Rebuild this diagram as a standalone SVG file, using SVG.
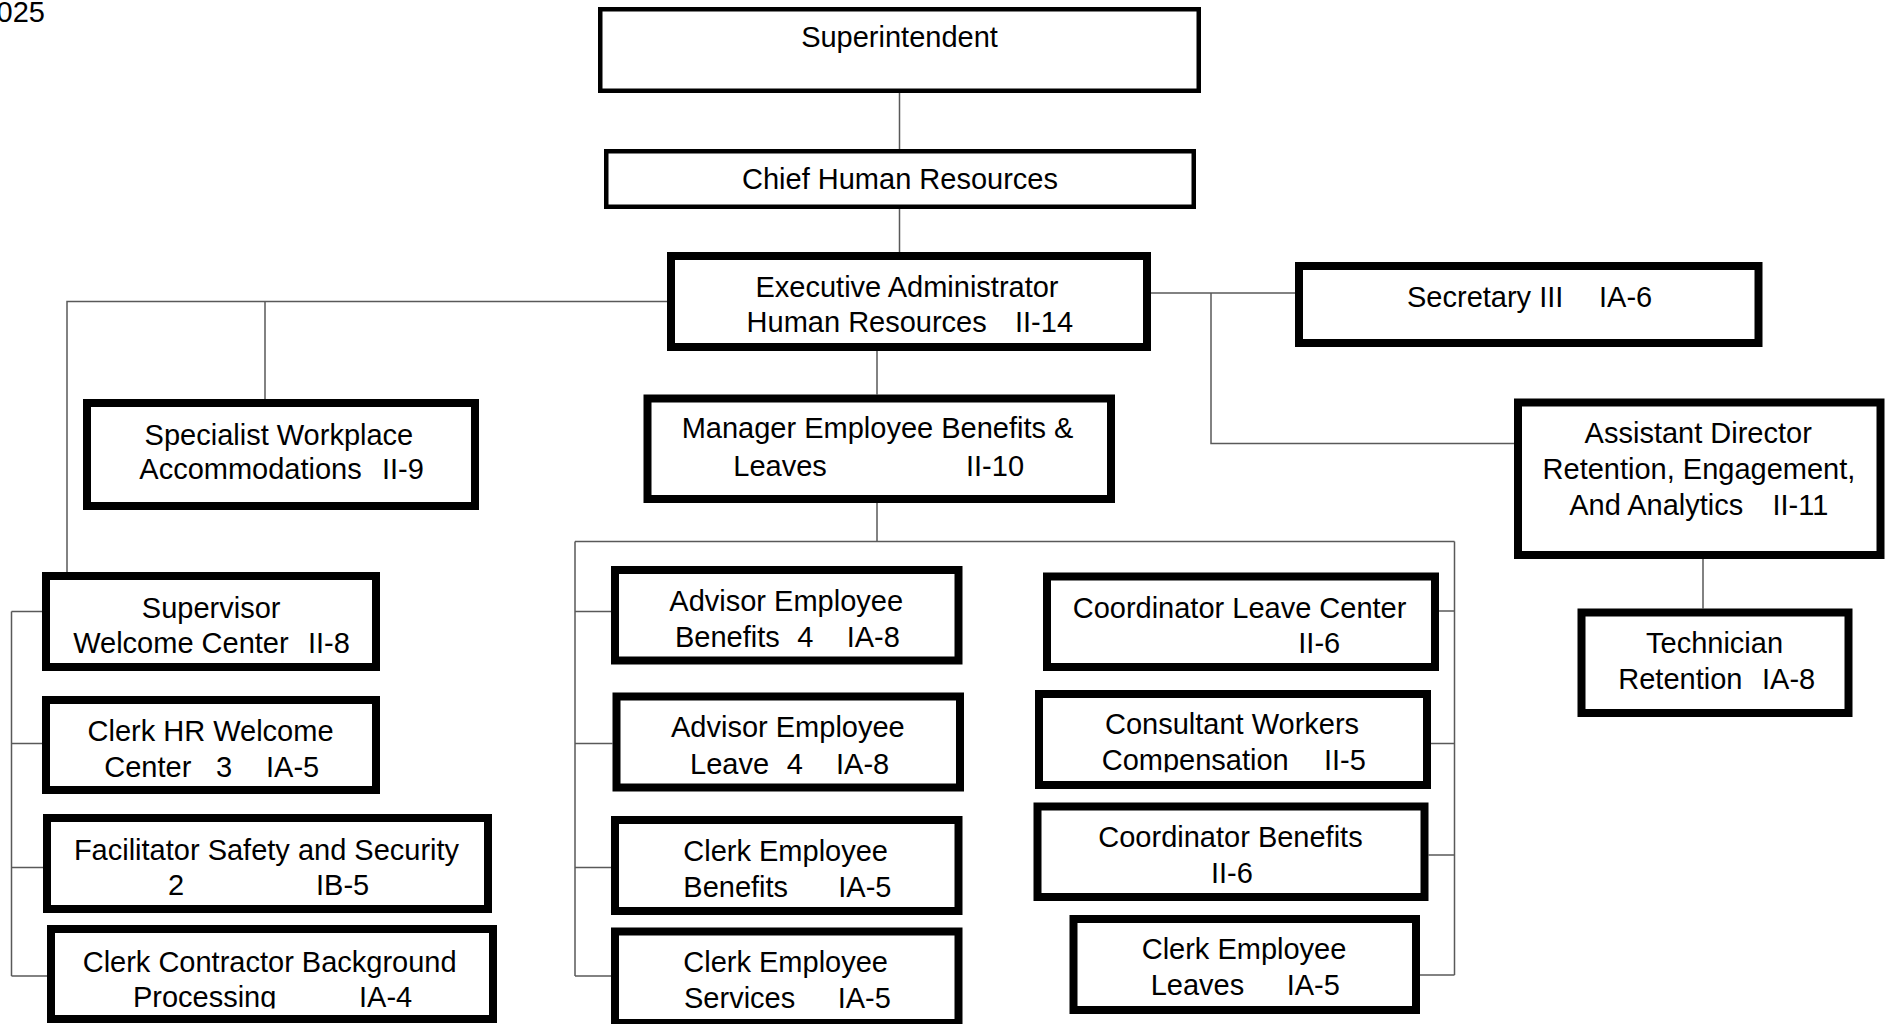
<svg xmlns="http://www.w3.org/2000/svg" width="1888" height="1024" viewBox="0 0 1888 1024">
<style>
.box{fill:#fff;stroke:#000;stroke-width:8}
.thin{stroke-width:4.5}
.t{font-family:"Liberation Sans",Arial,sans-serif;font-size:29px;fill:#000}
.c{stroke:#595959;stroke-width:1.5;fill:none}
</style>
<defs>
<clipPath id="clipCCB"><rect x="55" y="933" width="434" height="75.5"/></clipPath>
<clipPath id="clipCWC"><rect x="1043" y="698" width="380" height="74.3"/></clipPath>
</defs>
<rect width="1888" height="1024" fill="#fff"/>
<text class="t" x="45" y="21.7" font-size="25" text-anchor="end">2025</text>

<g id="connectors">
<path class="c" d="M899.5 93V149M899.5 209V252"/>
<path class="c" d="M667 301.5H67V572M265 301.5V399"/>
<path class="c" d="M1151 293H1295M1211 293V443.5H1514"/>
<path class="c" d="M1703 559V608.5"/>
<path class="c" d="M877 351V394.5M877 503V541.5M575 541.5H1454.5M575 541.5V976M1454.5 541.5V975"/>
<path class="c" d="M575 611.5H611M575 743.5H612.5M575 867.5H611M575 976H611"/>
<path class="c" d="M1439 611H1454.5M1431 743.5H1454.5M1428.5 855H1454.5M1420 975H1454.5"/>
<path class="c" d="M11.5 611.5V976M11.5 611.5H42M11.5 743.5H42M11.5 867.5H43M11.5 976H47"/>
</g>

<g id="superintendent">
<rect class="box thin" x="600.25" y="9.25" width="598.5" height="81.5"/>
<text class="t" x="899.5" y="46.7" text-anchor="middle">Superintendent</text>
</g>
<g id="chief-hr">
<rect class="box thin" x="606.25" y="151.25" width="587.5" height="55.5"/>
<text class="t" x="900" y="189" text-anchor="middle">Chief Human Resources</text>
</g>
<g id="exec-admin">
<rect class="box" x="671" y="256" width="476" height="91"/>
<text class="t" x="755.5" y="296.7">Executive Administrator</text>
<text class="t" y="332.3"><tspan x="746.6">Human Resources</tspan><tspan x="1015">II-14</tspan></text>
</g>
<g id="secretary">
<rect class="box" x="1299" y="266" width="459.5" height="77"/>
<text class="t" y="307.3"><tspan x="1407">Secretary III</tspan><tspan x="1599">IA-6</tspan></text>
</g>
<g id="assistant-director">
<rect class="box" x="1518" y="402.5" width="362.5" height="152.5"/>
<text class="t" x="1584.6" y="443.3">Assistant Director</text>
<text class="t" x="1542.6" y="479.3">Retention, Engagement,</text>
<text class="t" y="515"><tspan x="1569.2">And Analytics</tspan><tspan x="1772.4">II-11</tspan></text>
</g>
<g id="technician">
<rect class="box" x="1581.5" y="612.5" width="267" height="100.5"/>
<text class="t" x="1646" y="653.3">Technician</text>
<text class="t" y="689.3"><tspan x="1618.3">Retention</tspan><tspan x="1762">IA-8</tspan></text>
</g>
<g id="specialist">
<rect class="box" x="87" y="403" width="388" height="103"/>
<text class="t" x="144.6" y="444.5">Specialist Workplace</text>
<text class="t" y="479.4"><tspan x="139.3">Accommodations</tspan><tspan x="382">II-9</tspan></text>
</g>
<g id="supervisor">
<rect class="box" x="46" y="576" width="330" height="91"/>
<text class="t" x="141.8" y="618.2">Supervisor</text>
<text class="t" y="653.1"><tspan x="73.2">Welcome Center</tspan><tspan x="307.9">II-8</tspan></text>
</g>
<g id="clerk-hr">
<rect class="box" x="46" y="700" width="330" height="90"/>
<text class="t" x="87.5" y="741.4">Clerk HR Welcome</text>
<text class="t" y="777.2"><tspan x="104.3">Center</tspan><tspan x="216">3</tspan><tspan x="266">IA-5</tspan></text>
</g>
<g id="facilitator">
<rect class="box" x="47" y="818" width="441" height="91"/>
<text class="t" x="73.9" y="859.7">Facilitator Safety and Security</text>
<text class="t" y="894.6"><tspan x="167.9">2</tspan><tspan x="316">IB-5</tspan></text>
</g>
<g id="clerk-contractor">
<rect class="box" x="51" y="929" width="442" height="90"/>
<g clip-path="url(#clipCCB)">
<text class="t" x="82.7" y="971.5">Clerk Contractor Background</text>
<text class="t" y="1006.5"><tspan x="132.9">Processing</tspan><tspan x="359">IA-4</tspan></text>
</g>
</g>
<g id="manager">
<rect class="box" x="647.5" y="398.5" width="463.5" height="100.5"/>
<text class="t" x="681.7" y="438">Manager Employee Benefits &amp;</text>
<text class="t" y="475.5"><tspan x="733.3">Leaves</tspan><tspan x="966">II-10</tspan></text>
</g>
<g id="advisor-benefits">
<rect class="box" x="615" y="570" width="343.5" height="90.5"/>
<text class="t" x="669.3" y="610.8">Advisor Employee</text>
<text class="t" y="647"><tspan x="675">Benefits</tspan><tspan x="797.3">4</tspan><tspan x="846.7">IA-8</tspan></text>
</g>
<g id="advisor-leave">
<rect class="box" x="616.5" y="696.5" width="343.5" height="91"/>
<text class="t" x="671" y="737.3">Advisor Employee</text>
<text class="t" y="773.5"><tspan x="690">Leave</tspan><tspan x="786.7">4</tspan><tspan x="836">IA-8</tspan></text>
</g>
<g id="clerk-emp-benefits">
<rect class="box" x="615" y="820" width="343.5" height="91"/>
<text class="t" x="683.3" y="860.5">Clerk Employee</text>
<text class="t" y="896.7"><tspan x="683.3">Benefits</tspan><tspan x="838.3">IA-5</tspan></text>
</g>
<g id="clerk-emp-services">
<rect class="box" x="615" y="931.5" width="343.5" height="91.5"/>
<text class="t" x="683.3" y="972">Clerk Employee</text>
<text class="t" y="1008"><tspan x="684">Services</tspan><tspan x="837.7">IA-5</tspan></text>
</g>
<g id="coord-leave">
<rect class="box" x="1047" y="576.5" width="388" height="90.5"/>
<text class="t" x="1072.7" y="617.7">Coordinator Leave Center</text>
<text class="t" x="1298.3" y="652.7">II-6</text>
</g>
<g id="consultant">
<rect class="box" x="1039" y="694" width="388" height="91"/>
<g clip-path="url(#clipCWC)">
<text class="t" x="1105" y="734">Consultant Workers</text>
<text class="t" y="770.3"><tspan x="1101.7">Compensation</tspan><tspan x="1324">II-5</tspan></text>
</g>
</g>
<g id="coord-benefits">
<rect class="box" x="1037.5" y="806.5" width="387" height="90.5"/>
<text class="t" x="1098.3" y="847.3">Coordinator Benefits</text>
<text class="t" x="1211" y="883.3">II-6</text>
</g>
<g id="clerk-emp-leaves">
<rect class="box" x="1073.5" y="919" width="342.5" height="91"/>
<text class="t" x="1141.7" y="959.3">Clerk Employee</text>
<text class="t" y="995"><tspan x="1150.7">Leaves</tspan><tspan x="1286.7">IA-5</tspan></text>
</g>
</svg>
